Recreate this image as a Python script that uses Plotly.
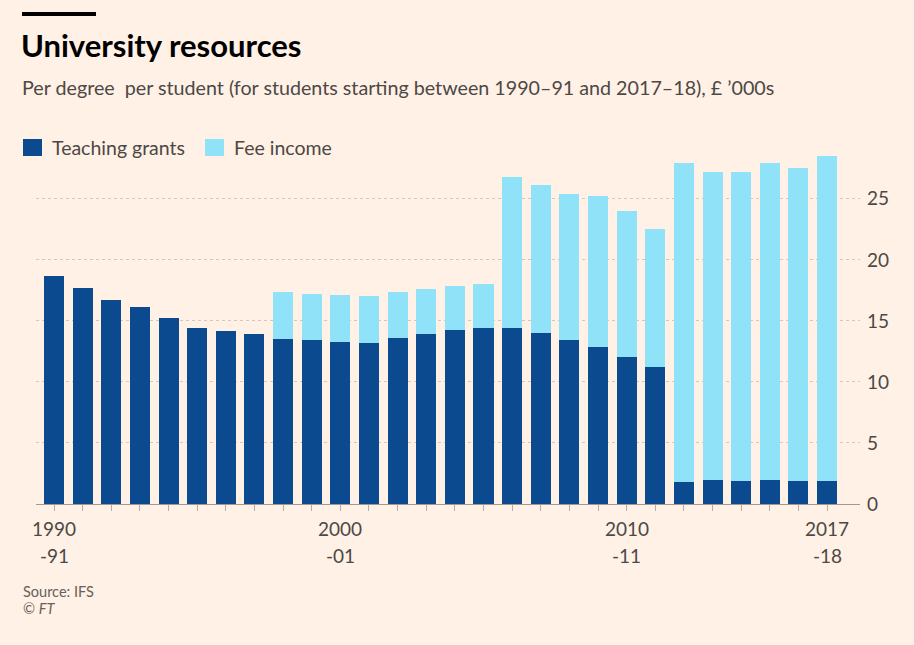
import plotly.graph_objects as go

# Data (per degree per student, £'000s)
years = list(range(1990, 2018))
teaching_grants = [18.7, 17.7, 16.7, 16.1, 15.2, 14.4, 14.2, 13.9,
                   13.55, 13.4, 13.3, 13.2, 13.6, 13.9, 14.25, 14.4,
                   14.4, 14.0, 13.4, 12.9, 12.05, 11.2,
                   1.8, 2.0, 1.85, 1.95, 1.9, 1.85]
totals = [18.7, 17.7, 16.7, 16.1, 15.2, 14.4, 14.2, 13.9,
          17.4, 17.2, 17.15, 17.0, 17.4, 17.6, 17.9, 18.0,
          26.8, 26.1, 25.4, 25.2, 24.0, 22.5,
          27.9, 27.2, 27.2, 27.9, 27.5, 28.5]
fee_income = [round(t - g, 2) for t, g in zip(totals, teaching_grants)]
label_years = [1990, 2000, 2010, 2017]
label_suffix = ["-91", "-01", "-11", "-18"]
y_ticks = [0, 5, 10, 15, 20, 25]

BG = "#fff1e5"
DARK = "#0c4a8f"
LIGHT = "#90e2f9"
GREY = "#66605c"
TEXT = "#4d4845"
FONT = "Lato"

# plot area in pixels
L, R, T, B = 36, 860, 150, 504
W, H = 914, 645


def px(x):
    return (x - L) / (R - L)


def py(y):
    return (B - y) / (B - T)


idx = list(range(len(years)))
fig = go.Figure()
fig.add_trace(go.Bar(x=idx, y=teaching_grants, name="Teaching grants",
                     marker=dict(color=DARK, line=dict(width=0))))
fig.add_trace(go.Bar(x=idx, y=fee_income, name="Fee income",
                     marker=dict(color=LIGHT, line=dict(width=0))))

fig.update_layout(
    width=W, height=H,
    barmode="stack", bargap=0.3,
    paper_bgcolor=BG, plot_bgcolor=BG,
    margin=dict(l=L, r=W - R, t=T, b=H - B, autoexpand=False),
    font=dict(family=FONT, color=GREY, size=16),
    showlegend=False,
    xaxis=dict(range=[-0.63, 28.15], tickmode="array", tickvals=idx,
               ticktext=[""] * len(idx), ticks="outside", ticklen=6,
               tickcolor="#b5ada6", showline=True, linecolor="#a09a94",
               linewidth=1, showgrid=False, zeroline=False),
    yaxis=dict(range=[0, 29], side="right", tickvals=y_ticks,
               showgrid=True, gridcolor="#d9c6b8", griddash="dot", gridwidth=1,
               zeroline=False, showline=False, ticks="", ticklabelstandoff=6,
               tickfont=dict(size=19, color=TEXT)),
)

# x labels, two lines each
for yr, suf in zip(label_years, label_suffix):
    i = years.index(yr)
    fig.add_annotation(xref="x", yref="paper", x=i, y=py(528), text=str(yr),
                       showarrow=False, yanchor="middle",
                       font=dict(family=FONT, size=19, color=TEXT))
    fig.add_annotation(xref="x", yref="paper", x=i, y=py(555), text=suf,
                       showarrow=False, yanchor="middle",
                       font=dict(family=FONT, size=19, color=TEXT))

# Header: black rule, title, subtitle
fig.add_shape(type="rect", xref="paper", yref="paper",
              x0=px(22), x1=px(96), y0=py(16), y1=py(12),
              fillcolor="#000000", line=dict(width=0))
fig.add_annotation(xref="paper", yref="paper", x=px(19), y=py(45),
                   xanchor="left", yanchor="middle", showarrow=False,
                   text="<b>University resources</b>",
                   font=dict(family=FONT, size=31, color="#000000"))
fig.add_annotation(xref="paper", yref="paper", x=px(20), y=py(87),
                   xanchor="left", yanchor="middle", showarrow=False,
                   text="Per degree  per student (for students starting between 1990\u201391 and 2017\u201318), \u00a3 \u2019000s",
                   font=dict(family=FONT, size=19.7, color=TEXT))

# Legend drawn by hand: swatch + label
legend_items = [("Teaching grants", DARK, 23), ("Fee income", LIGHT, 205)]
for name, color, x0 in legend_items:
    fig.add_shape(type="rect", xref="paper", yref="paper",
                  x0=px(x0), x1=px(x0 + 19), y0=py(156), y1=py(139),
                  fillcolor=color, line=dict(width=0))
    fig.add_annotation(xref="paper", yref="paper", x=px(x0 + 27), y=py(147),
                       xanchor="left", yanchor="middle", showarrow=False,
                       text=name, font=dict(family=FONT, size=19.5, color=TEXT))

# Footer
fig.add_annotation(xref="paper", yref="paper", x=px(21), y=py(591),
                   xanchor="left", yanchor="middle", showarrow=False,
                   text="Source: IFS", font=dict(family=FONT, size=14.5, color=GREY))
fig.add_annotation(xref="paper", yref="paper", x=px(21), y=py(608),
                   xanchor="left", yanchor="middle", showarrow=False,
                   text="\u00a9 <i>FT</i>", font=dict(family=FONT, size=14.5, color=GREY))

fig.write_html("out.html", config={"displayModeBar": False},
               post_script="document.body.style.margin='0';")
